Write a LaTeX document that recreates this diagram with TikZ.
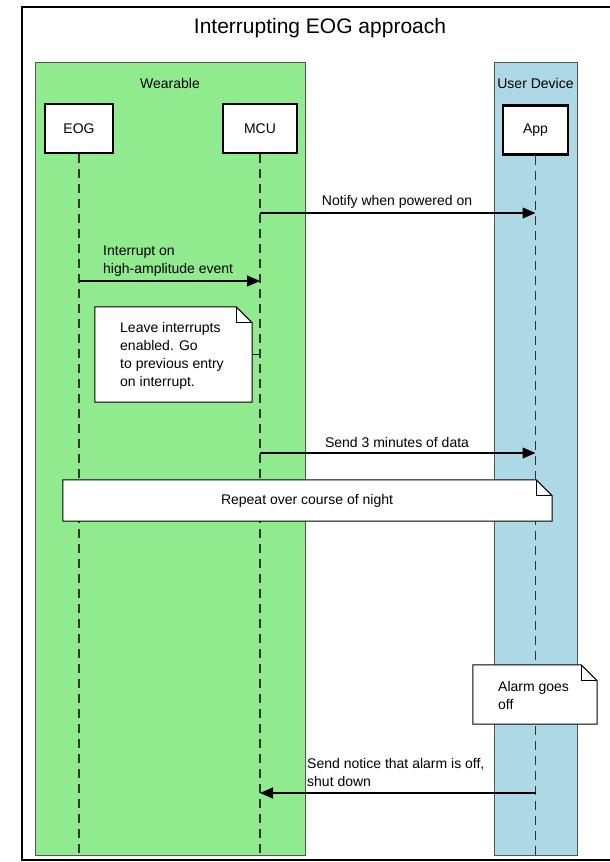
\documentclass[tikz,border=0pt]{standalone}
\usepackage{fontspec}
\setmainfont{Liberation Sans}
\usetikzlibrary{arrows.meta,calc}
\definecolor{wgreen}{HTML}{90EA8E}
\definecolor{ublue}{HTML}{ADD8E6}
\definecolor{lanegray}{HTML}{555555}
\definecolor{lifegray}{HTML}{333333}
\tikzset{
  lbl/.style={font=\fontsize{14}{18}\selectfont, inner sep=0pt},
  lane/.style={draw=lanegray, line width=1pt, inner sep=0pt},
  actor/.style={draw=black, fill=white, line width=2.8pt, minimum width=68pt, minimum height=49pt, font=\fontsize{14}{18}\selectfont, inner sep=0pt},
  lifeline/.style={draw=lifegray, line width=1.5pt, dash pattern=on 9pt off 6pt},
  msg/.style={draw=black, line width=1.3pt, -{Triangle[length=13pt,width=11pt]}},
  noteframe/.style={draw=black, fill=white, line width=1pt},
  notebox/.style={inner sep=0pt}
}
\begin{document}
\begin{tikzpicture}[x=1pt,y=-1pt]
\useasboundingbox (0,0) rectangle (610,862);
\fill[white] (0,0) rectangle (610,862);
% outer frame
\draw[line width=2pt] (612,7) -- (22,7) -- (22,860) -- (612,860);
\node[font=\fontsize{21}{25}\selectfont, inner sep=0pt] (title) at (320,28) {Interrupting EOG approach};
% lanes
\node[lane, fill=wgreen, minimum width=270pt, minimum height=793pt] (wear) at (170,458.5) {};
\node[lane, fill=ublue, minimum width=83pt, minimum height=793pt] (udev) at (535.5,458.5) {};
\node[lbl] (wearl) at (170,83) {Wearable};
\node[lbl] (udevl) at (535.5,83) {User Device};
% actors
\node[actor] (eog) at (79,128.5) {EOG};
\node[actor, minimum width=74pt] (mcu) at (260,128.5) {MCU};
\node[actor, minimum width=65pt] (app) at (535.5,130) {App};
% lifeline ends
\coordinate (eogend) at (79,855);
\coordinate (mcuend) at (260,855);
\coordinate (append) at (535.5,855);
\draw[lifeline] (eog.south) -- (eogend);
\draw[lifeline] (mcu.south) -- (mcuend);
\draw[lifeline] (app.south) -- (append);
% message points
\coordinate (m1a) at (260,213);
\coordinate (m1b) at (535.5,213);
\coordinate (m2a) at (79,281);
\coordinate (m2b) at (260,281);
\coordinate (m3a) at (260,453);
\coordinate (m3b) at (535.5,453);
\coordinate (m4a) at (535.5,793);
\coordinate (m4b) at (260,793);
\draw[msg] (m1a) -- (m1b);
\node[lbl] (m1l) at (397,202) {Notify when powered on};
\draw[msg] (m2a) -- (m2b);
\node[lbl, anchor=west, align=left] (m2l) at (103,261) {Interrupt on\\high-amplitude event};
\draw[msg] (m3a) -- (m3b);
\node[lbl] (m3l) at (397,442) {Send 3 minutes of data};
\draw[msg] (m4a) -- (m4b);
\node[lbl, anchor=west, align=left] (m4l) at (307,772) {Send notice that alarm is off,\\shut down};
% note 1
\node[notebox, minimum width=157pt, minimum height=95pt] (n1) at (173.5,354.5) {};
\coordinate (n1tick) at (260,354);
\draw[line width=1pt] (n1.east |- n1tick) -- (n1tick);
\draw[noteframe] (n1.south west) -- (n1.north west) -- ($(n1.north east)+(-16,0)$) -- ($(n1.north east)+(0,16)$) -- (n1.south east) -- cycle;
\draw[line width=1pt] ($(n1.north east)+(-16,0)$) -- ($(n1.north east)+(-16,16)$) -- ($(n1.north east)+(0,16)$);
\node[lbl, anchor=west, align=left] (n1t) at (120,356) {Leave interrupts\\enabled. Go\\to previous entry\\on interrupt.};
% repeat note
\node[notebox, minimum width=489pt, minimum height=41pt] (n2) at (307.5,500.5) {};
\draw[noteframe] (n2.south west) -- (n2.north west) -- ($(n2.north east)+(-16,0)$) -- ($(n2.north east)+(0,16)$) -- (n2.south east) -- cycle;
\draw[line width=1pt] ($(n2.north east)+(-16,0)$) -- ($(n2.north east)+(-16,16)$) -- ($(n2.north east)+(0,16)$);
\node[lbl] (n2t) at (307,501) {Repeat over course of night};
% alarm note
\node[notebox, minimum width=124pt, minimum height=59pt] (n3) at (535,694.5) {};
\draw[noteframe] (n3.south west) -- (n3.north west) -- ($(n3.north east)+(-16,0)$) -- ($(n3.north east)+(0,16)$) -- (n3.south east) -- cycle;
\draw[line width=1pt] ($(n3.north east)+(-16,0)$) -- ($(n3.north east)+(-16,16)$) -- ($(n3.north east)+(0,16)$);
\node[lbl, anchor=west, align=left] (n3t) at (498,695) {Alarm goes\\off};
\end{tikzpicture}
\end{document}
